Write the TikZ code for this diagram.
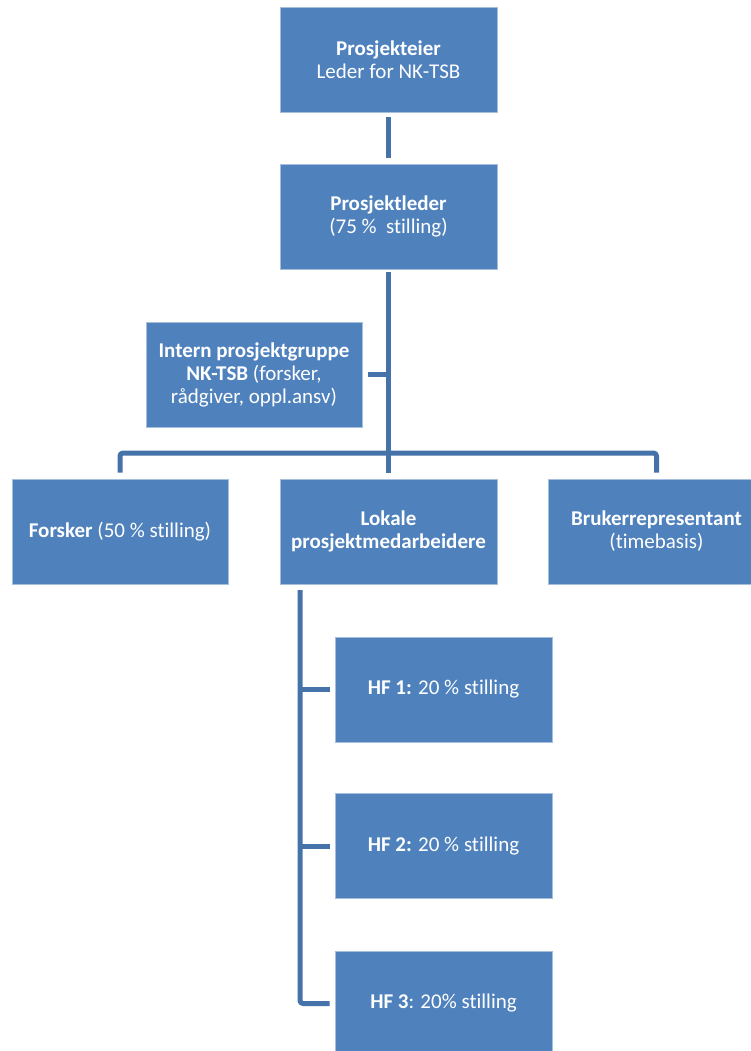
\documentclass[tikz,border=0pt]{standalone}
\usepackage{fontspec}
\setmainfont{Carlito}[Ligatures=NoCommon]
\usetikzlibrary{calc}
\definecolor{boxblue}{HTML}{4F81BD}
\definecolor{boxedge}{HTML}{A7BFDE}
\definecolor{connblue}{HTML}{4672AA}
\tikzset{
  orgbox/.style={fill=boxblue, draw=boxedge, line width=0.8pt, minimum width=217pt, minimum height=105pt,
    inner sep=0pt, align=center, text=white, font=\fontsize{21}{23}\selectfont},
  conn/.style={draw=connblue, line width=5pt, line cap=butt, line join=round}
}
\begin{document}
\begin{tikzpicture}[x=1pt,y=-1pt]
\useasboundingbox (0,0) rectangle (751,1051);
\node[orgbox] (pe) at (388.5,59.5) {\textbf{Prosjekteier}\\Leder for NK-TSB};
\node[orgbox] (pl) at (388.5,216.5) {\textbf{Prosjektleder}\\(75 \%~ stilling)};
\node[orgbox, minimum width=216pt] (ig) at (254,374.5) {\textbf{Intern prosjektgruppe}\\\textbf{NK-TSB} (forsker,\\rådgiver, oppl.ansv)};
\node[orgbox, minimum width=216pt] (fo) at (120,531.5) {\textbf{Forsker} (50 \% stilling)};
\node[orgbox] (lo) at (388.5,531.5) {\textbf{Lokale}\\\textbf{prosjektmedarbeidere}};
\node[orgbox] (br) at (656.5,531.5) {\textbf{Brukerrepresentant}\\(timebasis)};
\node[orgbox] (hf1) at (443.5,689.5) {\textbf{HF 1:} 20 \% stilling};
\node[orgbox] (hf2) at (443.5,846) {\textbf{HF 2:} 20 \% stilling};
\node[orgbox] (hf3) at (443.5,1003.5) {\textbf{HF 3}: 20\% stilling};
\coordinate (bus) at (388.5,453);
\coordinate (ls) at (300,584);
\draw[conn, shorten <=5pt, shorten >=6pt] (pe) -- (pl);
\draw[conn, shorten <=3pt, shorten >=6pt] (pl.south) -- (lo.north);
\draw[conn, shorten <=6pt] (ig.east) -- (ig.east -| pl.south);
\draw[conn, rounded corners=3pt, shorten <=6pt, shorten >=6pt] (fo.north) |- (bus) -| (br.north);
\draw[conn, rounded corners=3pt, shorten <=6pt, shorten >=5pt] (ls) |- (hf3.west);
\draw[conn, shorten >=5pt] (hf1.west -| ls) -- (hf1.west);
\draw[conn, shorten >=5pt] (hf2.west -| ls) -- (hf2.west);
\end{tikzpicture}
\end{document}
